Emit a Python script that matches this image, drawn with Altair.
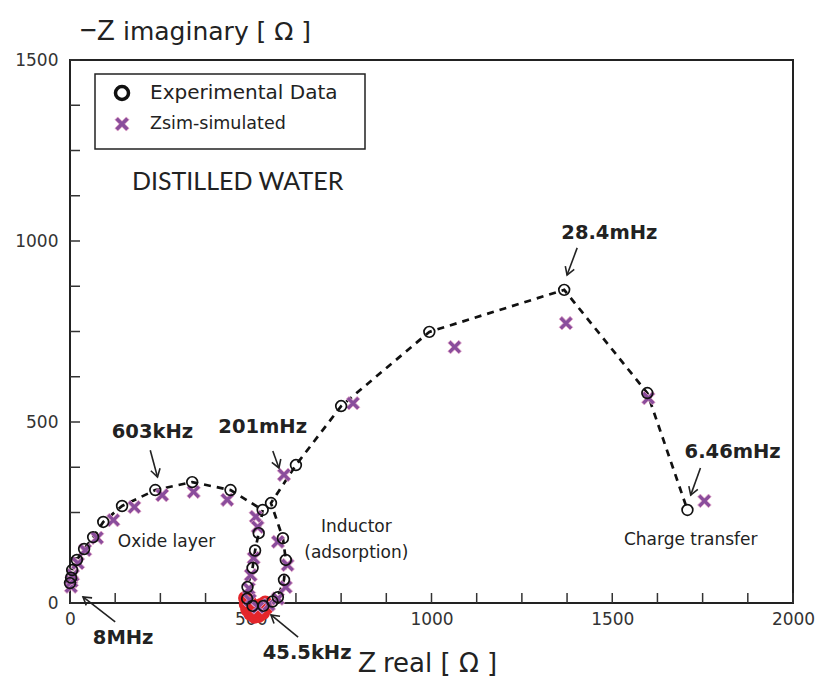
import math
import altair as alt
import pandas as pd

# Plot area size in pixels (axes box)
W, H = 723, 543
X_MAX, Y_MAX = 2000, 1500

# Experimental impedance data (Z real, -Z imaginary), ordered by decreasing frequency
exp_zre = [0, 3, 6, 19, 39, 64, 92, 144, 236, 338, 444,
           533, 522, 512, 505, 491, 490, 505, 535, 560, 575, 592, 597, 589, 556,
           625, 750, 994, 1367, 1597, 1708]
exp_zim = [55, 70, 91, 119, 149, 182, 224, 268, 312, 334, 312,
           257, 193, 145, 97, 44, 12, -8, -8, 4, 16, 64, 119, 179, 276,
           381, 544, 749, 865, 580, 257]

# Zsim fitted values
sim_zre = [3, 5, 8, 22, 42, 75, 120, 178, 255, 342, 435,
           514, 519, 508, 500, 495, 498, 520, 550, 575, 597, 602, 575,
           592, 783, 1064, 1372, 1600, 1755]
sim_zim = [45, 60, 77, 110, 146, 180, 229, 265, 298, 307, 285,
           238, 210, 124, 77, 40, 8, -12, -5, 12, 44, 105, 169,
           354, 552, 707, 773, 566, 282]

# Dense high-frequency points around the 45.5 kHz minimum
hf_zre = [484, 486, 490, 498, 510, 522, 534, 544, 520, 505, 496, 528, 512, 540]
hf_zim = [14, -4, -18, -30, -38, -36, -28, -14, -15, -5, 8, -5, -22, 2]

# Frequency annotations: label, label position, arrow tail, arrow tip
ann_text = ["603kHz", "201mHz", "28.4mHz", "6.46mHz", "8MHz", "45.5kHz"]
ann_x = [228, 533, 1492, 1833, 147, 656]
ann_y = [472, 486, 1022, 417, -97, -138]
arr_x1 = [222, 561, 1403, 1744, 125, 631]
arr_y1 = [422, 420, 981, 373, -52, -94]
arr_x2 = [242, 578, 1375, 1717, 36, 556]
arr_y2 = [348, 373, 906, 298, 17, -33]

# Region labels
reg_text = ["Oxide layer", "Inductor", "(adsorption)", "Charge transfer"]
reg_x = [267, 792, 792, 1717]
reg_y = [169, 210, 138, 174]

tick_x = list(range(0, 2001, 125))
tick_y = list(range(0, 1501, 125))

FONT = "DejaVu Sans"
PURPLE = "#8a4d9c"
X_PATH = ("M-1,-0.6L-0.6,-1L0,-0.4L0.6,-1L1,-0.6L0.4,0L1,0.6L0.6,1"
          "L0,0.4L-0.6,1L-1,0.6L-0.4,0Z")
HEAD_PATH = "M-0.55,0.9L0,0L0.55,0.9"

xs = alt.Scale(domain=[0, X_MAX], nice=False, zero=False)
ys = alt.Scale(domain=[0, Y_MAX], nice=False, zero=False)

x_axis = alt.Axis(values=[0, 500, 1000, 1500, 2000], format="d", ticks=False,
                  domain=False, grid=False, labelFontSize=17, labelFont=FONT,
                  labelColor="#333", labelPadding=8, title=None,
                  labelFlush=False)
y_axis = alt.Axis(values=[0, 500, 1000, 1500], format="d", ticks=False,
                  domain=False, grid=False, labelFontSize=17, labelFont=FONT,
                  labelColor="#333", labelPadding=12, title=None)

exp_df = pd.DataFrame({"zre": exp_zre, "zim": exp_zim,
                       "i": range(len(exp_zre))})
sim_df = pd.DataFrame({"zre": sim_zre, "zim": sim_zim})
hf_df = pd.DataFrame({"zre": hf_zre, "zim": hf_zim})

sx = W / X_MAX
sy = H / Y_MAX
angles = []
for a, b, c, d in zip(arr_x1, arr_y1, arr_x2, arr_y2):
    dx = (c - a) * sx
    dy = -(d - b) * sy
    angles.append(math.degrees(math.atan2(dx, -dy)) % 360)

ann_df = pd.DataFrame({"t": ann_text, "x": ann_x, "y": ann_y})
arr_df = pd.DataFrame({"x1": arr_x1, "y1": arr_y1, "x2": arr_x2,
                       "y2": arr_y2, "ang": angles})
reg_df = pd.DataFrame({"t": reg_text, "x": reg_x, "y": reg_y})

X = lambda f: alt.X(f, type="quantitative", scale=xs, axis=x_axis)
Y = lambda f: alt.Y(f, type="quantitative", scale=ys, axis=y_axis)

ticks_x = alt.Chart(pd.DataFrame({"v": tick_x})).mark_rule(
    color="#333", strokeWidth=1.5).encode(
    x=X("v"), y=alt.value(H), y2=alt.value(H - 10))
ticks_y = alt.Chart(pd.DataFrame({"v": tick_y})).mark_rule(
    color="#333", strokeWidth=1.5).encode(
    y=Y("v"), x=alt.value(0), x2=alt.value(10))

line = alt.Chart(exp_df).mark_line(
    color="#111", strokeWidth=2.7, strokeDash=[7, 6]).encode(
    x=X("zre"), y=Y("zim"), order="i:Q")

hf = alt.Chart(hf_df).mark_point(
    filled=True, color="#e3262b", size=190, opacity=1).encode(
    x=X("zre"), y=Y("zim"))

sim = alt.Chart(sim_df).mark_point(
    shape=X_PATH, filled=True, fill=PURPLE, stroke="#e7a9c9",
    strokeWidth=0.8, size=185, opacity=1).encode(
    x=X("zre"), y=Y("zim"))

exp = alt.Chart(exp_df).mark_point(
    shape="circle", filled=False, color="#111", strokeWidth=1.7,
    size=115, opacity=1).encode(
    x=X("zre"), y=Y("zim"))

shafts = alt.Chart(arr_df).mark_rule(color="#222", strokeWidth=1.6).encode(
    x=X("x1"), y=Y("y1"), x2="x2", y2="y2")
heads = alt.Chart(arr_df).mark_point(
    shape=HEAD_PATH, filled=False, color="#222", strokeWidth=1.6,
    size=300, opacity=1).encode(
    x=X("x2"), y=Y("y2"), angle=alt.Angle("ang:Q", scale=None))

ann = alt.Chart(ann_df).mark_text(
    font=FONT, fontSize=19.5, fontWeight="bold", color="#222").encode(
    x=X("x"), y=Y("y"), text="t:N")

reg = alt.Chart(reg_df).mark_text(
    font=FONT, fontSize=17, color="#222").encode(
    x=X("x"), y=Y("y"), text="t:N")


def px_text(text, x, y, size, align="left", baseline="alphabetic",
            font=FONT, weight="normal", color="#222"):
    return alt.Chart(pd.DataFrame({"t": [text]})).mark_text(
        font=font, fontSize=size, align=align, baseline=baseline,
        fontWeight=weight, color=color).encode(
        x=alt.value(x), y=alt.value(y), text="t:N")


# Legend box with its symbols and labels
legend_box = alt.Chart(pd.DataFrame({"k": [0]})).mark_rect(
    fill="white", stroke="#222", strokeWidth=1.5).encode(
    x=alt.value(25), x2=alt.value(295), y=alt.value(14), y2=alt.value(89))
leg_circle = alt.Chart(pd.DataFrame({"k": [0]})).mark_point(
    shape="circle", filled=False, color="#111", strokeWidth=3.5,
    size=170, opacity=1).encode(x=alt.value(52), y=alt.value(33))
leg_cross = alt.Chart(pd.DataFrame({"k": [0]})).mark_point(
    shape=X_PATH, filled=True, fill=PURPLE, stroke="#e7a9c9",
    strokeWidth=0.8, size=200, opacity=1).encode(
    x=alt.value(52), y=alt.value(64))
leg_t1 = px_text("Experimental Data", 80, 33, 20, baseline="middle")
leg_t2 = px_text("Zsim-simulated", 80, 64, 17.5, baseline="middle")

water = px_text("DISTILLED WATER", 62, 122, 25, baseline="middle",
                font="Lato")

# Axis titles
y_t1 = px_text("\u2212Z", 10, -20, 29, font="Liberation Sans")
y_t2 = px_text("imaginary [ \u03a9 ]", 53, -20, 25)
x_t1 = px_text("Z", 288, 612, 30, font="Liberation Sans")
x_t2 = px_text("real [ \u03a9 ]", 313, 612, 26)

chart = alt.layer(
    ticks_x, ticks_y, line, hf, sim, exp, shafts, heads, ann, reg,
    legend_box, leg_circle, leg_cross, leg_t1, leg_t2, water,
    y_t1, y_t2, x_t1, x_t2,
).properties(
    width=W, height=H,
    autosize=alt.AutoSizeParams(type="none"),
    padding={"left": 70, "top": 60, "right": 22, "bottom": 76},
    background="white",
).configure_view(
    stroke="#222", strokeWidth=2
)

chart.save("out.html", embed_options={"renderer": "svg", "actions": False})
